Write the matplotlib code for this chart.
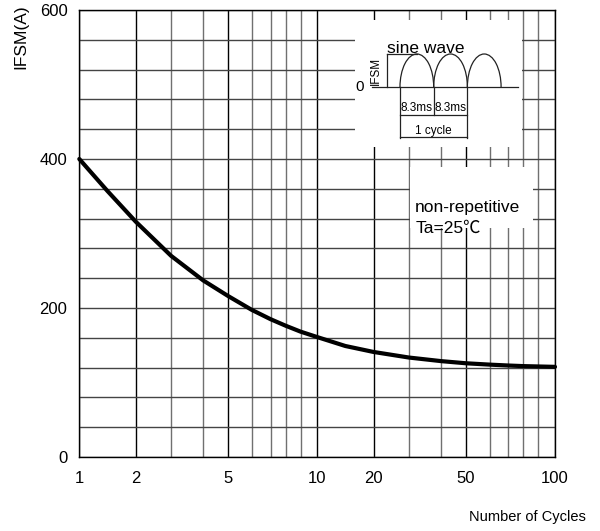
import numpy as np
import matplotlib
matplotlib.use('Agg')
import matplotlib.pyplot as plt
from matplotlib.patches import Arc, Rectangle

plt.rcParams['font.family'] = ['Liberation Sans', 'Noto Sans CJK SC', 'DejaVu Sans']

# 곡선 데이터
cycles = [1, 1.5, 2, 3, 4, 5, 6, 7, 8, 9, 10, 15, 20, 30, 40, 50, 60, 70, 80, 100]
ifsm = [400, 357, 316, 270, 237, 216, 197.5, 185, 176.3, 168.3, 161, 149, 141, 133.5, 128.7, 125.8, 124, 122.8, 122, 121]

x_labeled = [1, 2, 5, 10, 20, 50, 100]
x_minor = [3, 4, 6, 7, 8, 9, 30, 40, 60, 70, 80, 90]
y_labeled = [0, 200, 400, 600]
y_minor = list(range(0, 601, 40))

# 원본 그래프의 눈금 간격 (한 decade 안에서의 위치, 순수 log 아님)
mant = [1, 2, 3, 4, 5, 6, 7, 8, 9, 10]
frac = [0, 0.237, 0.386, 0.521, 0.626, 0.725, 0.804, 0.867, 0.93, 1.0]


def fwd(x):
    x = np.clip(np.asarray(x, dtype=float), 1e-3, None)
    d = np.floor(np.log10(x) + 1e-12)
    m = x / 10 ** d
    return d + np.interp(m, mant, frac)


def inv(y):
    y = np.asarray(y, dtype=float)
    d = np.floor(y)
    m = np.interp(y - d, frac, mant)
    return m * 10 ** d


fig = plt.figure(figsize=(6, 5.31), dpi=100)
ax = fig.add_axes([79.3 / 600, 74 / 531, 475.7 / 600, 447 / 531])
ax.set_xscale('function', functions=(fwd, inv))
ax.set_xlim(1, 100)
ax.set_ylim(0, 600)

ax.set_xticks(x_labeled)
ax.set_xticklabels([str(v) for v in x_labeled])
ax.set_xticks(x_minor, minor=True)
ax.set_yticks(y_labeled)
ax.set_yticks(y_minor, minor=True)
ax.tick_params(which='both', length=0)
ax.tick_params(axis='x', labelsize=12, pad=10)
ax.tick_params(axis='y', labelsize=12, pad=8.5)

ax.grid(True, axis='x', which='major', color='black', lw=1)
ax.grid(True, axis='x', which='minor', color='#707070', lw=1)
ax.grid(True, axis='y', which='both', color='#444444', lw=1)
ax.set_axisbelow(True)
for s in ax.spines.values():
    s.set_linewidth(1)
    s.set_color('black')

ax.plot(cycles, ifsm, color='black', lw=3, solid_capstyle='round',
        solid_joinstyle='round', zorder=4, clip_on=False)

# non-repetitive 글상자
ax.add_patch(Rectangle((0.695, 0.512), 0.259, 0.137, transform=ax.transAxes,
                       facecolor='white', edgecolor='none', zorder=2.5))
ax.text(0.706, 0.549, 'non-repetitive', transform=ax.transAxes, fontsize=12.5,
        va='baseline', ha='left', zorder=5)
ax.text(0.706, 0.502, 'Ta=25℃', transform=ax.transAxes, fontsize=12.5,
        va='baseline', ha='left', zorder=5)

# sine wave 그림 (단위: ms)
ins = fig.add_axes([355 / 600, (531 - 147) / 531, 167 / 600, 127 / 531])
ins.set_facecolor('white')
ins.set_xlim(-11.08, 30.05)
ins.set_ylim(-1.818, 2.03)
ins.set_xticks([])
ins.set_yticks([])
for s in ins.spines.values():
    s.set_visible(False)
half = 8.3
lc = '#222222'
for k in range(3):
    ins.add_patch(Arc((half * k + half / 2, 0), half, 2, theta1=0, theta2=180, color=lc, lw=0.9))
ins.plot([-7.0, 29.1], [0, 0], color=lc, lw=0.9)
ins.plot([-3.3, -3.3], [0, 1], color=lc, lw=0.9)
ins.plot([-3.3, half / 2], [1, 1], color=lc, lw=0.9)
ins.plot([0, 0], [0, -1.55], color=lc, lw=0.9)
ins.plot([2 * half, 2 * half], [0, -1.55], color=lc, lw=0.9)
ins.plot([half, half], [0, -0.85], color=lc, lw=0.9)
ins.plot([0, 2 * half], [-0.85, -0.85], color=lc, lw=0.9)
ins.plot([0, 2 * half], [-1.5, -1.5], color=lc, lw=0.9)
ins.text(-9.9, 0, '0', fontsize=11, ha='center', va='center')
ins.text(-5.9, 0.5, 'IFSM', fontsize=8.5, rotation=90, ha='center', va='center')
ins.text(-3.3, 1.03, 'sine wave', fontsize=12.5, ha='left', va='baseline')
ins.text(half / 2, -0.73, '8.3ms', fontsize=8.5, ha='center', va='baseline')
ins.text(half * 1.5, -0.73, '8.3ms', fontsize=8.5, ha='center', va='baseline')
ins.text(half, -1.43, '1 cycle', fontsize=8.5, ha='center', va='baseline')

fig.text(21 / 600, 1 - 69 / 531, 'IFSM(A)', rotation=90, ha='center', va='bottom', fontsize=12.5)
fig.text(586 / 600, 1 - 517 / 531, 'Number of Cycles', ha='right', va='center', fontsize=10.5)

fig.savefig('out.png', dpi=100)
